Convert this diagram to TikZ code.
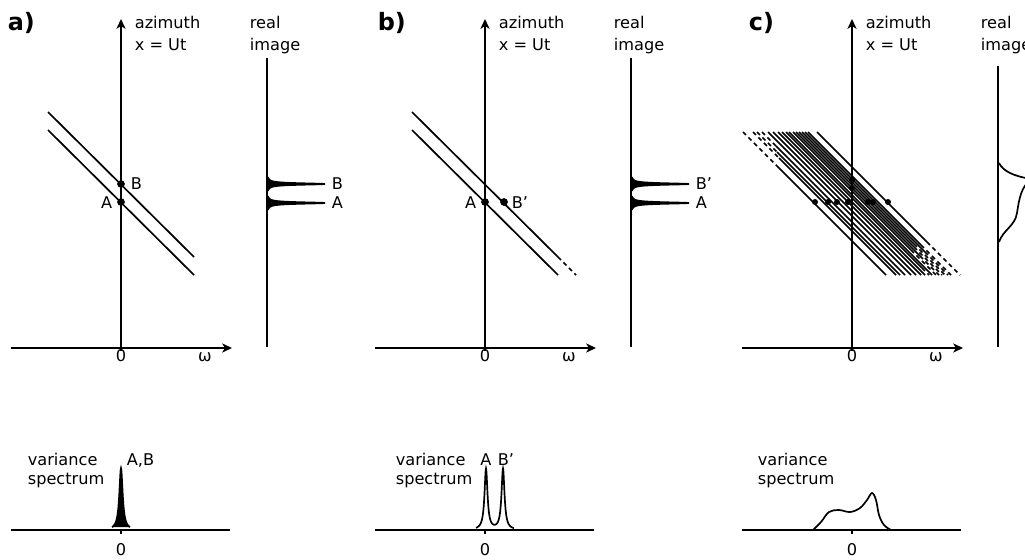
\documentclass[tikz,border=0pt]{standalone}
\usepackage{fontspec}
\setmainfont{DejaVu Sans}
\usetikzlibrary{arrows.meta}

\begin{document}
\begin{tikzpicture}[x=0.025cm,y=-0.025cm,line width=1.2pt,
  every node/.style={font=\fontsize{11.5}{13}\selectfont,inner sep=0pt},
  axis/.style={-{Stealth[length=7pt,width=6.5pt,inset=2pt]}},
  tag/.style={font=\fontsize{17}{20}\selectfont\bfseries,anchor=base west},
  txt/.style={anchor=base west},
  dot/.style={circle,fill,inner sep=0pt,minimum size=5.5pt},
  dashpart/.style={dash pattern=on 3pt off 2.5pt}]
\useasboundingbox (0,0) rectangle (1025,559);
\clip (0,0) rectangle (1025,559);

% a) two sources at zero velocity
\node[tag] (taga) at (7,30) {a)};
\coordinate (oa) at (121,351); \coordinate (ta) at (121,19);
\coordinate (la) at (11,348); \coordinate (ra) at (232,348);
\draw[axis] (oa) -- (ta); \draw[axis] (la) -- (ra);
\node[txt] (aza) at (134,28) {azimuth}; \node[txt] (xa) at (134,50) {x = Ut};
\node[txt] (rea) at (249,28) {real}; \node[txt] (ima) at (249,50) {image};
\node[anchor=base] (za) at (121,361) {0}; \node[anchor=base] (wa) at (205,361) {ω};
\draw (48,112) -- (194,257); \draw (48,130) -- (194,275);
\node[dot] (Ba) at (121,184) {}; \node[dot] (Aa) at (121,202) {};
\node[anchor=west] (lBa) at (130,184) {B}; \node[anchor=east] (lAa) at (113,203) {A};
\coordinate (ia) at (267,58); \coordinate (ja) at (267,347); \draw (ia) -- (ja);
\draw[fill] plot[domain=-7:7,samples=71] ({267+58/(1+(\x/0.9)^2)},{184+\x});
\draw[fill] plot[domain=-7:7,samples=71] ({267+58/(1+(\x/0.9)^2)},{203+\x});
\node[anchor=west] (rBa) at (331,184) {B}; \node[anchor=west] (rAa) at (331,203) {A};
\node[txt] (vaa) at (27,465) {variance}; \node[txt] (spa) at (27,484) {spectrum};
\node[txt] (pka) at (126,465) {A,B};
\coordinate (sla) at (11,530); \coordinate (sra) at (230,530); \draw (sla) -- (sra);
\draw (121,530) -- (121,534);
\draw[fill] plot[domain=-9:9,samples=73] ({121+\x},{530-62/(1+(\x/2)^2)});
\node[anchor=base] (zsa) at (121,555) {0};

% b) second source moving
\begin{scope}[shift={(364,0)}]
\node[tag] (tagb) at (13,30) {b)};
\coordinate (ob) at (121,351); \coordinate (tb) at (121,19);
\coordinate (lb) at (11,348); \coordinate (rb) at (232,348);
\draw[axis] (ob) -- (tb); \draw[axis] (lb) -- (rb);
\node[txt] (azb) at (134,28) {azimuth}; \node[txt] (xb) at (134,50) {x = Ut};
\node[txt] (reb) at (249,28) {real}; \node[txt] (imb) at (249,50) {image};
\node[anchor=base] (zb) at (121,361) {0}; \node[anchor=base] (wb) at (205,361) {ω};
\draw (48,112) -- (194,257); \draw[dashpart] (194,257) -- (212,275);
\draw (48,130) -- (194,275);
\node[dot] (Bb) at (140,202) {}; \node[dot] (Ab) at (121,202) {};
\node[anchor=west] (lBb) at (147,203) {B’}; \node[anchor=east] (lAb) at (113,203) {A};
\coordinate (ib) at (267,58); \coordinate (jb) at (267,347); \draw (ib) -- (jb);
\draw[fill] plot[domain=-7:7,samples=71] ({267+58/(1+(\x/0.9)^2)},{184+\x});
\draw[fill] plot[domain=-7:7,samples=71] ({267+58/(1+(\x/0.9)^2)},{203+\x});
\node[anchor=west] (rBb) at (331,184) {B’}; \node[anchor=west] (rAb) at (331,203) {A};
\node[txt] (vab) at (31,465) {variance}; \node[txt] (spb) at (31,484) {spectrum};
\node[anchor=base] (pAb) at (122,465) {A}; \node[anchor=base] (pBb) at (142,465) {B’};
\coordinate (slb) at (11,530); \coordinate (srb) at (230,530); \draw (slb) -- (srb);
\draw (121,530) -- (121,534);
\draw plot[domain=-10:28,samples=153] ({122+\x},{530-61/(1+(\x/1.8)^2)-61/(1+((\x-17)/1.8)^2)});
\node[anchor=base] (zsb) at (121,555) {0};
\end{scope}

% c) many sources, spread of velocities
\begin{scope}[shift={(731,0)}]
\node[tag] (tagc) at (17,30) {c)};
\coordinate (oc) at (121,351); \coordinate (tc) at (121,19);
\coordinate (lc) at (11,348); \coordinate (rc) at (232,348);
\draw[axis] (oc) -- (tc); \draw[axis] (lc) -- (rc);
\node[txt] (azc) at (134,28) {azimuth}; \node[txt] (xc) at (134,50) {x = Ut};
\node[txt] (rec) at (249,28) {real}; \node[txt] (imc) at (249,50) {image};
\node[anchor=base] (zc) at (121,361) {0}; \node[anchor=base] (wc) at (205,361) {ω};
\foreach \c/\ya/\yb in {-241/166/275,-231/158/275,-227/152/275,-222/146/275,-216/132/275,
  -211/132/275,-206/132/275,-202/132/275,-198/132/268,-195/132/275,-191/132/250,
  -188/132/256,-185/132/247,-182/132/244,-179/132/252,-176/132/245,-167/132/242} {
  \draw[dashpart] ({121+\c+132},132) -- ({121+\c+\ya},\ya);
  \draw ({121+\c+\ya},\ya) -- ({121+\c+\yb},\yb);
  \draw[dashpart] ({121+\c+\yb},\yb) -- ({121+\c+275},275);
}
\foreach \u in {-37,-24,-15,-4,16,21,36} \fill ({121+\u},202) circle (3);
\fill (121,180) circle (3); \fill (121,188) circle (3);
\coordinate (ic) at (267,66); \coordinate (jc) at (267,347); \draw (ic) -- (jc);
\draw (268,163) .. controls (272,171) and (282,176) .. (300,179);
\draw (300,180) .. controls (290,186) and (288,200) .. (286,213)
  .. controls (284,226) and (272,230) .. (268,242);
\node[txt] (vac) at (26,465) {variance}; \node[txt] (spc) at (26,484) {spectrum};
\coordinate (slc) at (11,530); \coordinate (src) at (230,530); \draw (slc) -- (src);
\draw (121,530) -- (121,534);
\draw plot[smooth,tension=0.6] coordinates {(82,530) (90,522) (98,512) (108,510) (119,512)
  (129,508) (136,500) (141,493) (145,500) (148,515) (153,525) (160,530)};
\node[anchor=base] (zsc) at (121,555) {0};
\end{scope}
\end{tikzpicture}
\end{document}
